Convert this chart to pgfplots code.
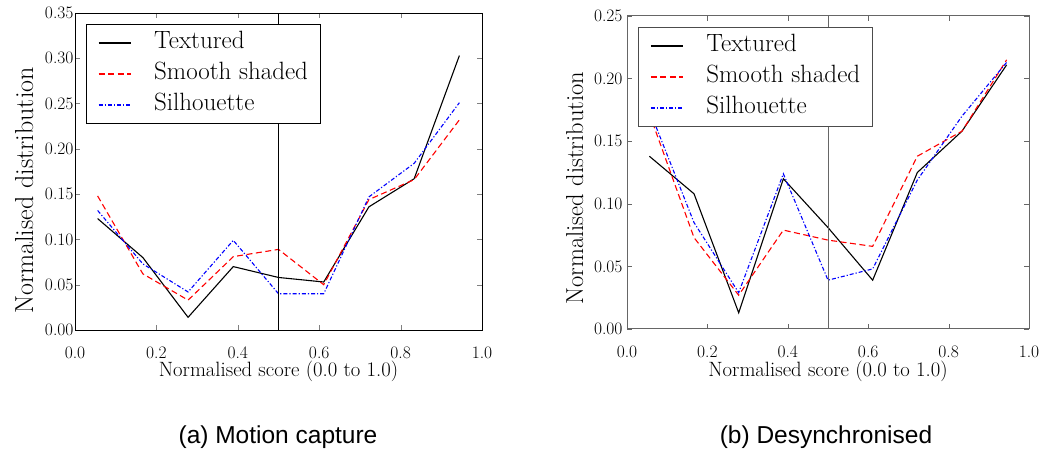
\documentclass[border=0pt]{standalone}
\usepackage{fontspec}
\newfontfamily\capfont{Liberation Sans}
\usepackage{pgfplots}
\pgfplotsset{compat=1.18}
\begin{document}
\begin{tikzpicture}
\useasboundingbox (0pt,0pt) rectangle (1046pt,463pt);
\pgfplotsset{
  myax/.style={
    scale only axis,
    xmin=0, xmax=1, ymin=0,
    xtick={0,0.2,0.4,0.6,0.8,1.0},
    tick align=inside,
    major tick length=5pt,
    /pgf/number format/assume math mode=true,
    tick label style={font=\fontsize{17.5}{19}\selectfont},
    xticklabel style={/pgf/number format/.cd,fixed,fixed zerofill,precision=1,/tikz/.cd, inner ysep=0pt, yshift=-17pt},
    yticklabel style={/pgf/number format/.cd,fixed,fixed zerofill,precision=2,/tikz/.cd},
    xlabel={Normalised score (0.0 to 1.0)},
    ylabel={Normalised distribution},
    xlabel style={font=\fontsize{20.7}{23}\selectfont, anchor=base, inner sep=0pt},
    ylabel style={anchor=base, inner sep=0pt},
    legend cell align=left,
    legend image code/.code={\draw[#1, line width=1.2pt] (0pt,0pt) -- (32pt,0pt);},
    legend style={anchor=north west, font=\fontsize{25}{28}\selectfont,
      nodes={inner xsep=0pt, inner ysep=0pt, text height=18pt, text depth=6pt},
      inner xsep=12pt, inner ysep=6.5pt, row sep=7pt, column sep=23pt, line width=0.8pt},
    every axis plot/.append style={line width=1.1pt},
  },
  tex/.style={black, solid},
  smo/.style={color=red, dash pattern=on 6pt off 3.5pt},
  sil/.style={color=blue, dash pattern=on 4pt off 2pt on 1.2pt off 2pt},
}
\begin{axis}[myax, at={(75pt,133pt)}, anchor=south west, width=407pt, height=317pt,
  ymax=0.35, ytick={0,0.05,0.10,0.15,0.20,0.25,0.30,0.35},
  axis line style={black, line width=0.8pt},
  yticklabel style={xshift=2pt},
  xlabel style={at={(axis description cs:0.5,-0.148)}},
  ylabel style={at={(axis description cs:-0.103,0.44)}, font=\fontsize{26}{28}\selectfont},
  legend style={at={(0.026,0.965)}, draw=black}]
\addplot[tex] coordinates {(0.0556,0.123) (0.1667,0.080) (0.2778,0.014) (0.3889,0.070) (0.5,0.058) (0.6111,0.053) (0.7222,0.136) (0.8333,0.167) (0.9444,0.303)};
\addlegendentry{Textured}
\addplot[smo] coordinates {(0.0556,0.148) (0.1667,0.062) (0.2778,0.033) (0.3889,0.081) (0.5,0.089) (0.6111,0.050) (0.7222,0.144) (0.8333,0.166) (0.9444,0.232)};
\addlegendentry{Smooth shaded}
\addplot[sil] coordinates {(0.0556,0.132) (0.1667,0.073) (0.2778,0.042) (0.3889,0.099) (0.5,0.040) (0.6111,0.040) (0.7222,0.147) (0.8333,0.184) (0.9444,0.251)};
\addlegendentry{Silhouette}
\addplot[black, line width=0.9pt, forget plot] coordinates {(0.5,0) (0.5,0.35)};
\end{axis}
\begin{axis}[myax, at={(627pt,134pt)}, anchor=south west, width=402pt, height=313pt,
  ymax=0.25, ytick={0,0.05,0.10,0.15,0.20,0.25},
  axis line style={black!60, line width=1pt},
  xtick style={black!60}, ytick style={black!60},
  yticklabel style={xshift=-1pt},
  xlabel style={at={(axis description cs:0.5,-0.153)}},
  ylabel style={at={(axis description cs:-0.109,0.45)}, font=\fontsize{24.5}{27}\selectfont},
  legend style={at={(0.0266,0.965)}, draw=black!70},
  legend image code/.code={\draw[#1, line width=1.3pt] (0pt,0pt) -- (32pt,0pt);}]
\addplot[tex] coordinates {(0.0556,0.138) (0.1667,0.108) (0.2778,0.013) (0.3889,0.120) (0.5,0.081) (0.6111,0.039) (0.7222,0.125) (0.8333,0.158) (0.9444,0.211)};
\addlegendentry{Textured}
\addplot[smo] coordinates {(0.0556,0.172) (0.1667,0.073) (0.2778,0.027) (0.3889,0.079) (0.5,0.071) (0.6111,0.066) (0.7222,0.138) (0.8333,0.158) (0.9444,0.215)};
\addlegendentry{Smooth shaded}
\addplot[sil] coordinates {(0.0556,0.175) (0.1667,0.085) (0.2778,0.029) (0.3889,0.124) (0.5,0.039) (0.6111,0.048) (0.7222,0.119) (0.8333,0.170) (0.9444,0.213)};
\addlegendentry{Silhouette}
\addplot[black!60, line width=1pt, forget plot] coordinates {(0.5,0) (0.5,0.25)};
\end{axis}
\node[font=\capfont\fontsize{24.5}{28}\selectfont] at (278pt,26pt) {(a) Motion capture};
\node[font=\capfont\fontsize{24.5}{28}\selectfont] at (826pt,26pt) {(b) Desynchronised};
\end{tikzpicture}
\end{document}
